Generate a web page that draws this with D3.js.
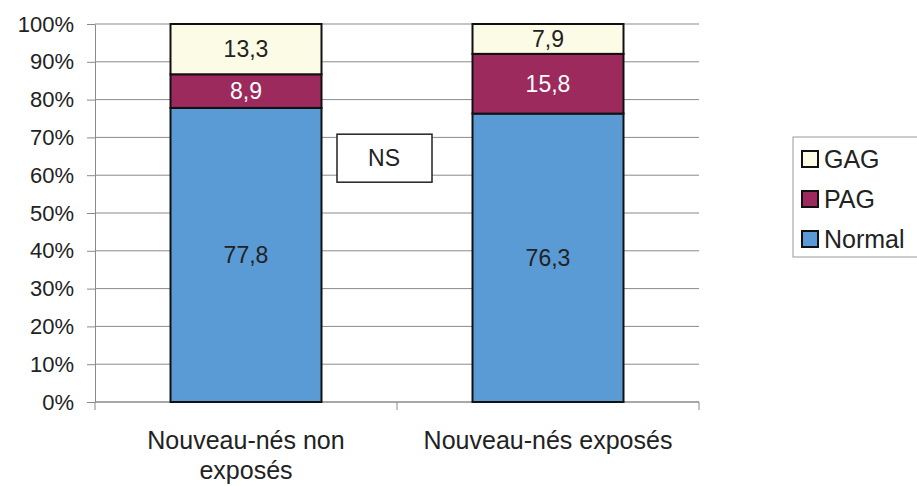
<!DOCTYPE html>
<html>
<head>
<meta charset="utf-8">
<script src="https://cdn.jsdelivr.net/npm/d3@7"></script>
<style>
  body { margin: 0; background: #fff; }
  text { font-family: "Liberation Sans", Arial, sans-serif; }
</style>
</head>
<body>
<svg id="chart" width="917" height="486"></svg>
<script>
// chart data
const groups = ["Nouveau-nés non exposés", "Nouveau-nés exposés"];
const normalValues = [77.8, 76.3];
const pagValues = [8.9, 15.8];
const gagValues = [13.3, 7.9];
const seriesNames = ["Normal", "PAG", "GAG"];
const yTicks = [0, 10, 20, 30, 40, 50, 60, 70, 80, 90, 100];

const colors = { Normal: "#5b9bd5", PAG: "#9c2a5c", GAG: "#fbfbe6" };
const labelColor = { Normal: "#222", PAG: "#fff", GAG: "#222" };

const svg = d3.select("#chart");
const margin = { top: 24, left: 95, right: 218, bottom: 84 };
const width = 917 - margin.left - margin.right,
      height = 486 - margin.top - margin.bottom;

const g = svg.append("g").attr("transform", `translate(${margin.left},${margin.top})`);

const x = d3.scaleBand().domain(groups).range([0, width]).paddingInner(0.5).paddingOuter(0.25);
const y = d3.scaleLinear().domain([0, 100]).range([height, 0]);

// stack the series
const rows = groups.map((grp, i) => ({
  group: grp, Normal: normalValues[i], PAG: pagValues[i], GAG: gagValues[i]
}));
const stacked = d3.stack().keys(seriesNames)(rows);

// gridlines
g.selectAll(".grid")
  .data(yTicks)
  .enter().append("line")
  .attr("x1", 0).attr("x2", width)
  .attr("y1", d => y(d)).attr("y2", d => y(d))
  .style("stroke", "#8a8a8a").style("stroke-width", 1);

// y axis
const yAxis = g.append("g")
  .call(d3.axisLeft(y).tickValues(yTicks).tickFormat(d => d + "%").tickSize(8).tickSizeOuter(0));
yAxis.select(".domain").style("stroke", "#8a8a8a");
yAxis.selectAll(".tick line").style("stroke", "#8a8a8a");
yAxis.selectAll("text").style("font-size", "22px").style("fill", "#222").attr("x", -21);

// x axis line and ticks at band edges
g.append("line")
  .attr("x1", 0).attr("x2", width).attr("y1", height).attr("y2", height)
  .style("stroke", "#8a8a8a");
const edges = [0, width / 2, width];
g.selectAll(".xtick")
  .data(edges)
  .enter().append("line")
  .attr("x1", d => d).attr("x2", d => d)
  .attr("y1", height).attr("y2", height + 8)
  .style("stroke", "#8a8a8a");

// bars
const layers = g.selectAll(".layer")
  .data(stacked)
  .enter().append("g");

layers.selectAll("rect")
  .data(d => d.map(v => ({ key: d.key, v })))
  .enter().append("rect")
  .attr("x", d => x(d.v.data.group))
  .attr("width", x.bandwidth())
  .attr("y", d => y(d.v[1]))
  .attr("height", d => y(d.v[0]) - y(d.v[1]))
  .style("fill", d => colors[d.key])
  .style("stroke", "#111")
  .style("stroke-width", 2);

layers.selectAll("text")
  .data(d => d.map(v => ({ key: d.key, v })))
  .enter().append("text")
  .attr("x", d => x(d.v.data.group) + x.bandwidth() / 2)
  .attr("y", d => (y(d.v[0]) + y(d.v[1])) / 2)
  .attr("dy", "0.35em")
  .attr("text-anchor", "middle")
  .style("font-size", "23px")
  .style("fill", d => labelColor[d.key])
  .text(d => d3.format(".1f")(d.v[1] - d.v[0]).replace(".", ","));

// category labels
const catLines = [["Nouveau-nés non", "exposés"], ["Nouveau-nés exposés"]];
groups.forEach((grp, i) => {
  const t = g.append("text")
    .attr("x", x(grp) + x.bandwidth() / 2)
    .attr("y", height + 47)
    .attr("text-anchor", "middle")
    .style("font-size", "25px")
    .style("fill", "#222");
  catLines[i].forEach((line, j) => {
    t.append("tspan")
      .attr("x", x(grp) + x.bandwidth() / 2)
      .attr("dy", j === 0 ? 0 : 30)
      .text(line);
  });
});

// NS annotation box
const nsX = width / 2 - 13, nsY = y(64.5);
g.append("rect")
  .attr("x", nsX - 47).attr("y", nsY - 24)
  .attr("width", 95).attr("height", 48)
  .style("fill", "#fff").style("stroke", "#222").style("stroke-width", 1.5);
g.append("text")
  .attr("x", nsX).attr("y", nsY)
  .attr("dy", "0.35em")
  .attr("text-anchor", "middle")
  .style("font-size", "23px")
  .style("fill", "#222")
  .text("NS");

// legend
const legend = svg.append("g").attr("transform", "translate(793,137)");
legend.append("rect")
  .attr("width", 130).attr("height", 120)
  .style("fill", "#fff").style("stroke", "#999");
const legendKeys = ["GAG", "PAG", "Normal"];
legendKeys.forEach((k, i) => {
  const row = legend.append("g").attr("transform", `translate(9,${22 + i * 40})`);
  row.append("rect")
    .attr("x", 0).attr("y", -8).attr("width", 16).attr("height", 16)
    .style("fill", colors[k]).style("stroke", "#111").style("stroke-width", 2);
  row.append("text")
    .attr("x", 22).attr("dy", "0.36em")
    .style("font-size", "25px").style("fill", "#222")
    .text(k);
});
</script>
</body>
</html>
